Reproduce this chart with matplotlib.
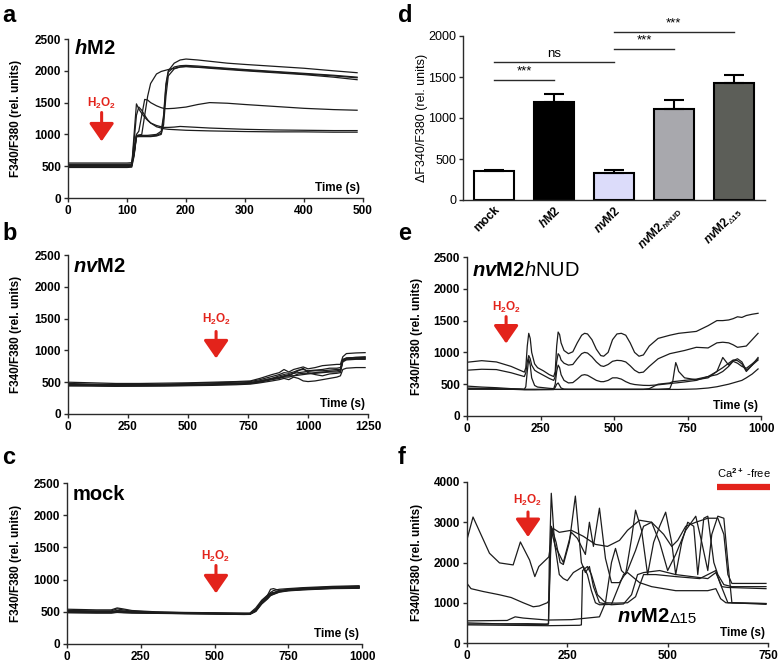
import matplotlib
matplotlib.use('Agg')
import matplotlib.pyplot as plt

plt.rcParams.update({
    'font.family': ['Liberation Sans', 'DejaVu Sans'],
    'mathtext.fontset': 'custom',
    'mathtext.rm': 'Liberation Sans:bold',
    'mathtext.it': 'Liberation Sans:italic:bold',
    'mathtext.bf': 'Liberation Sans:bold',
    'mathtext.sf': 'Liberation Sans',
    'mathtext.cal': 'Liberation Sans:italic',
})

RED = '#e3231b'
TRACE = '#1c1c1c'

# ---------------- data: panel a (hM2) ----------------
hM2_time = [0, 100, 108, 112, 116, 120, 125, 130, 135, 140, 150, 158, 162, 166, 170, 180, 190, 200, 220, 240, 270, 300, 350, 400, 450, 490]
hM2_trace1 = [550, 550, 555, 700, 980, 985, 985, 985, 985, 990, 1000, 1050, 1300, 1800, 2000, 2120, 2170, 2185, 2170, 2150, 2120, 2100, 2070, 2040, 2000, 1970]
hM2_trace2 = [500, 500, 505, 680, 970, 975, 975, 975, 975, 975, 985, 1020, 1250, 1750, 1980, 2060, 2080, 2085, 2075, 2060, 2040, 2020, 1990, 1960, 1930, 1900]
hM2_trace3 = [480, 480, 485, 660, 960, 965, 965, 965, 965, 965, 975, 1000, 1150, 1600, 1920, 2030, 2060, 2065, 2055, 2040, 2020, 2000, 1970, 1940, 1900, 1860]
hM2_trace4 = [520, 520, 525, 700, 980, 990, 1000, 1300, 1600, 1800, 1950, 1990, 2000, 2010, 2020, 2040, 2060, 2070, 2060, 2050, 2030, 2010, 1980, 1950, 1920, 1890]
hM2_trace5 = [490, 490, 500, 1000, 1480, 1400, 1330, 1270, 1220, 1180, 1140, 1120, 1110, 1110, 1110, 1115, 1125, 1120, 1110, 1100, 1090, 1080, 1070, 1065, 1060, 1060]
hM2_trace6 = [510, 510, 515, 900, 1300, 1430, 1380, 1300, 1230, 1180, 1120, 1100, 1090, 1085, 1080, 1075, 1070, 1065, 1060, 1055, 1050, 1045, 1040, 1040, 1035, 1035]
hM2_trace7 = [530, 530, 535, 800, 1000, 1050, 1300, 1550, 1540, 1500, 1450, 1420, 1410, 1405, 1405, 1410, 1420, 1430, 1470, 1500, 1490, 1470, 1440, 1410, 1390, 1380]

# ---------------- data: panel b (nvM2) ----------------
nvM2_time = [0, 100, 200, 300, 400, 500, 600, 700, 760, 800, 850, 880, 900, 920, 940, 960, 980, 1000, 1030, 1060, 1090, 1120, 1135, 1145, 1160, 1200, 1238]
nvM2_trace1 = [500, 490, 480, 480, 485, 490, 500, 510, 520, 560, 620, 650, 700, 660, 700, 720, 740, 710, 730, 760, 770, 780, 780, 900, 950, 960, 965]
nvM2_trace2 = [480, 470, 465, 465, 470, 480, 490, 500, 510, 540, 590, 620, 650, 640, 660, 690, 700, 680, 690, 700, 720, 720, 730, 860, 880, 890, 900]
nvM2_trace3 = [460, 455, 450, 450, 455, 460, 470, 480, 490, 520, 560, 580, 600, 620, 640, 650, 660, 670, 680, 680, 690, 700, 700, 840, 870, 880, 880]
nvM2_trace4 = [450, 445, 440, 440, 445, 450, 460, 470, 480, 500, 540, 560, 580, 580, 600, 610, 620, 630, 640, 650, 660, 660, 670, 820, 850, 860, 860]
nvM2_trace5 = [440, 440, 435, 440, 440, 445, 450, 460, 470, 490, 520, 540, 560, 540, 580, 560, 520, 510, 520, 540, 560, 580, 600, 700, 720, 730, 730]
nvM2_trace6 = [470, 460, 455, 455, 460, 465, 475, 485, 495, 520, 560, 600, 620, 600, 640, 680, 720, 650, 620, 600, 630, 640, 650, 830, 860, 870, 870]
nvM2_trace7 = [455, 450, 445, 445, 450, 455, 465, 475, 485, 510, 550, 570, 590, 600, 600, 630, 640, 640, 650, 660, 670, 680, 690, 850, 880, 890, 890]

# ---------------- data: panel c (mock) ----------------
mock_time = [0, 100, 150, 170, 190, 220, 300, 400, 500, 600, 620, 640, 660, 680, 690, 700, 720, 750, 800, 850, 900, 990]
mock_trace1 = [540, 530, 530, 560, 545, 520, 500, 490, 485, 480, 480, 560, 680, 760, 800, 830, 850, 860, 875, 885, 895, 905]
mock_trace2 = [520, 515, 515, 545, 530, 510, 495, 485, 480, 475, 475, 540, 660, 740, 790, 800, 830, 850, 865, 875, 885, 895]
mock_trace3 = [510, 505, 505, 520, 515, 500, 490, 480, 475, 470, 470, 530, 650, 730, 780, 790, 820, 840, 860, 870, 880, 890]
mock_trace4 = [500, 495, 495, 505, 500, 495, 485, 478, 472, 465, 468, 520, 640, 720, 770, 785, 815, 835, 850, 865, 875, 880]
mock_trace5 = [490, 485, 485, 495, 490, 485, 480, 472, 468, 460, 462, 510, 630, 710, 760, 775, 810, 830, 845, 855, 865, 870]
mock_trace6 = [495, 490, 490, 500, 495, 490, 482, 475, 470, 462, 465, 515, 640, 760, 850, 860, 830, 835, 850, 860, 870, 875]
mock_trace7 = [505, 500, 500, 510, 505, 495, 488, 480, 474, 468, 470, 525, 645, 725, 775, 790, 818, 838, 855, 868, 878, 885]
mock_trace8 = [485, 480, 480, 490, 485, 480, 476, 470, 465, 458, 460, 505, 620, 700, 750, 770, 805, 825, 840, 850, 860, 865]

# ---------------- data: panel d (bar chart) ----------------
bar_groups = ['mock', '$h$M2', '$nv$M2', '$nv$M2$_{h\\mathrm{NUD}}$', '$nv$M2$_{\\mathsf{\u0394}15}$']
bar_means = [350, 1200, 335, 1105, 1425]
bar_sem = [15, 95, 25, 110, 100]
bar_colors = ['#ffffff', '#000000', '#dcdcfa', '#a8a8ad', '#5c5e58']
sig_pairs = [(0, 1), (0, 2), (2, 3), (2, 4)]
sig_levels = [1460, 1680, 1840, 2050]
sig_labels = ['***', 'ns', '***', '***']

# ---------------- data: panel e (nvM2hNUD) ----------------
hNUD_time = [0, 50, 100, 150, 180, 195, 200, 205, 210, 215,
             220, 230, 240, 260, 280, 295, 300, 305, 310, 315,
             320, 330, 345, 360, 375, 390, 400, 410, 425, 440,
             455, 465, 480, 495, 510, 525, 540, 555, 570, 585,
             600, 620, 650, 690, 700, 705, 710, 715, 720, 740,
             780, 820, 850, 870, 890, 905, 920, 935, 950, 970, 990]
hNUD_trace1 = [845, 870, 850, 780, 720, 690, 760, 1100, 1300, 1220,
               1000, 820, 760, 710, 650, 620, 700, 1100, 1320, 1280,
               1150, 1030, 980, 1010, 1150, 1270, 1300, 1290, 1200, 1050,
               950, 940, 1000, 1200, 1290, 1300, 1270, 1150, 1000, 940,
               960, 1100, 1220, 1270, 1280, 1285, 1290, 1295, 1300, 1310,
               1330, 1420, 1500, 1500, 1510, 1530, 1560, 1550, 1580, 1600, 1615]
hNUD_trace2 = [720, 735, 730, 680, 640, 620, 680, 850, 950, 900,
               800, 720, 690, 640, 590, 560, 620, 850, 980, 950,
               880, 830, 800, 810, 900, 980, 1000, 990, 930, 850,
               790, 780, 810, 860, 875, 870, 850, 790, 720, 680,
               690, 780, 900, 980, 990, 995, 1000, 1005, 1010, 1030,
               1080, 1070, 1150, 1160, 1150, 1120, 1080, 1090, 1100, 1200, 1300]
hNUD_trace3 = [470, 455, 445, 430, 425, 420, 460, 700, 900, 800,
               600, 480, 455, 445, 435, 430, 500, 700, 800, 760,
               650, 560, 520, 525, 580, 640, 650, 640, 600, 560,
               540, 540, 560, 600, 600, 580, 540, 510, 495, 488,
               482, 480, 490, 510, 515, 518, 520, 522, 525, 535,
               560, 620, 700, 760, 830, 880, 870, 820, 700, 800, 920]
hNUD_trace4 = [440, 435, 428, 420, 415, 412, 412, 412, 412, 412,
               412, 412, 413, 414, 415, 416, 450, 500, 520, 480,
               440, 422, 420, 420, 420, 420, 420, 420, 420, 420,
               420, 420, 420, 420, 420, 420, 420, 420, 420, 420,
               420, 420, 420, 430, 550, 700, 840, 780, 700, 600,
               570, 600, 700, 920, 800, 870, 900, 850, 720, 800, 880]
hNUD_trace5 = [430, 428, 425, 422, 420, 418, 418, 418, 418, 418,
               418, 418, 418, 418, 418, 418, 418, 418, 418, 418,
               418, 418, 418, 418, 418, 418, 418, 418, 418, 418,
               418, 418, 418, 418, 418, 418, 418, 418, 418, 418,
               418, 430, 500, 520, 540, 542, 545, 547, 550, 560,
               580, 620, 650, 700, 780, 860, 830, 780, 750, 820, 900]
hNUD_trace6 = [420, 420, 420, 420, 420, 418, 418, 418, 418, 418,
               418, 418, 418, 418, 418, 418, 418, 418, 418, 418,
               418, 418, 418, 418, 418, 418, 418, 418, 418, 418,
               418, 418, 418, 418, 418, 418, 418, 418, 418, 418,
               418, 418, 418, 418, 418, 418, 418, 418, 418, 420,
               425, 440, 460, 480, 500, 520, 540, 560, 600, 660, 740]

# ---------------- data: panel f (nvM2 delta15) ----------------
d15_t1 = [0, 15, 30, 56, 81, 115, 133, 156, 169, 179, 204, 214, 230, 260, 290, 320, 350, 380, 400, 430, 460, 490, 510, 525, 545, 570, 600, 625, 640, 650, 660, 745]
d15_y1 = [2570, 3130, 2800, 2230, 1990, 1940, 2510, 2060, 1650, 1900, 2140, 2850, 2750, 2800, 2650, 2450, 2400, 2550, 2800, 3050, 3000, 2700, 2400, 2550, 2900, 3000, 3100, 3100, 2700, 1700, 1480, 1480]
d15_t2 = [0, 10, 40, 80, 110, 140, 165, 180, 200, 204, 210, 222, 232, 240, 255, 270, 285, 295, 305, 315, 330, 360, 390, 410, 425, 440, 480, 520, 560, 600, 620, 635, 650, 745]
d15_y2 = [1480, 1350, 1280, 1200, 1130, 1000, 900, 920, 1000, 1050, 2900, 2500, 2000, 1950, 2500, 3650, 2000, 1750, 1900, 1400, 1000, 950, 970, 1200, 1700, 1750, 1800, 1700, 1650, 1600, 1750, 1400, 1380, 1350]
d15_t3 = [0, 100, 195, 203, 205, 210, 218, 230, 240, 250, 265, 290, 300, 310, 320, 330, 360, 390, 400, 430, 460, 490, 520, 560, 600, 620, 632, 645, 745]
d15_y3 = [500, 470, 460, 470, 2000, 3720, 2500, 1700, 1600, 1550, 1750, 1900, 1700, 1300, 1000, 950, 960, 1700, 1750, 1500, 1400, 1350, 1300, 1300, 1300, 1350, 1100, 1000, 980]
d15_t4 = [0, 100, 200, 280, 285, 288, 300, 310, 325, 345, 370, 400, 420, 440, 470, 520, 580, 620, 630, 650, 745]
d15_y4 = [450, 440, 430, 440, 450, 1800, 1900, 1700, 1200, 1000, 990, 1000, 1150, 1700, 1700, 1650, 1600, 1800, 1500, 1000, 980]
d15_t5 = [0, 100, 120, 140, 200, 260, 300, 330, 345, 360, 370, 385, 395, 410, 420, 435, 450, 465, 480, 495, 510, 520, 535, 550, 565, 575, 590, 600, 615, 625, 640, 660, 745]
d15_y5 = [550, 560, 650, 620, 570, 580, 620, 650, 1000, 2000, 2350, 1800, 1700, 2600, 3300, 2800, 1700, 2500, 2900, 3250, 2500, 1700, 2500, 3000, 2900, 1700, 3100, 3150, 2000, 1700, 1450, 1400, 1400]
d15_t6 = [0, 150, 200, 203, 210, 220, 240, 260, 275, 295, 305, 315, 330, 345, 360, 380, 400, 420, 440, 460, 480, 500, 520, 545, 570, 585, 600, 610, 625, 640, 650, 660, 745]
d15_y6 = [470, 480, 470, 480, 2800, 2400, 2000, 2750, 2600, 2200, 3000, 2400, 3350, 2100, 1500, 1500, 1800, 2300, 2900, 3000, 2500, 1800, 2200, 2800, 3150, 2500, 1800, 2700, 3150, 3100, 2000, 1000, 960]

# ---------------- figure ----------------
W, H = 781, 670
fig = plt.figure(figsize=(W / 100, H / 100), dpi=100)


def make_ax(x0, y0, x1, y1):
    return fig.add_axes([x0 / W, 1 - y1 / H, (x1 - x0) / W, (y1 - y0) / H])


def style(ax, xlim, xticks, ylim, yticks, bold=True):
    ax.set_xlim(xlim)
    ax.set_ylim(ylim)
    ax.set_xticks(xticks)
    ax.set_yticks(yticks)
    for s in ['top', 'right']:
        ax.spines[s].set_visible(False)
    for s in ['left', 'bottom']:
        ax.spines[s].set_color('#2a2a2a')
        ax.spines[s].set_linewidth(1.0)
    ax.tick_params(direction='out', length=3, width=1.0, color='#2a2a2a', labelsize=8.5, pad=2)
    if bold:
        for lab in ax.get_xticklabels() + ax.get_yticklabels():
            lab.set_fontweight('bold')


def ylabel(ax, text, xpix, x0, width, bold=True):
    ax.set_ylabel(text, fontsize=8.5, fontweight='bold' if bold else 'normal')
    ax.yaxis.set_label_coords((xpix - x0) / width, 0.5)


def timelabel(ax):
    ax.text(0.99, 0.065, 'Time (s)', transform=ax.transAxes, ha='right', va='center',
            fontsize=8.5, fontweight='bold')


def h2o2(ax, x, y_top, y_tip, y_text):
    ax.annotate('', xy=(x, y_tip), xytext=(x, y_top),
                arrowprops=dict(arrowstyle='-|>,head_length=0.55,head_width=0.38', lw=2.2,
                                color=RED, shrinkA=0, shrinkB=0, mutation_scale=20))
    ax.text(x, y_text, 'H$_2$O$_2$', color=RED, ha='center', va='center', fontsize=8.5,
            fontweight='bold')


def panel_letter(x, y, s):
    fig.text(x / W, 1 - y / H, s, fontsize=17, fontweight='bold', ha='left', va='center')


# ---- a ----
axa = make_ax(68, 39, 363, 198)
for tr in [hM2_trace1, hM2_trace2, hM2_trace3, hM2_trace4, hM2_trace5, hM2_trace6, hM2_trace7]:
    axa.plot(hM2_time, tr, color=TRACE, lw=0.9)
style(axa, (0, 500), range(0, 501, 100), (0, 2500), range(0, 2501, 500))
ylabel(axa, 'F340/F380 (rel. units)', 22, 68, 295)
timelabel(axa)
axa.text(0.02, 1.0, '$h$M2', transform=axa.transAxes, fontsize=14.5, fontweight='bold', va='top', ha='left')
h2o2(axa, 57, 1344, 890, 1480)
panel_letter(2, 15, 'a')

# ---- b ----
axb = make_ax(68, 255, 368, 414)
for tr in [nvM2_trace1, nvM2_trace2, nvM2_trace3, nvM2_trace4, nvM2_trace5, nvM2_trace6, nvM2_trace7]:
    axb.plot(nvM2_time, tr, color=TRACE, lw=0.9)
style(axb, (0, 1250), range(0, 1251, 250), (0, 2500), range(0, 2501, 500))
ylabel(axb, 'F340/F380 (rel. units)', 22, 68, 300)
timelabel(axb)
axb.text(0.016, 0.99, '$nv$M2', transform=axb.transAxes, fontsize=14.5, fontweight='bold', va='top', ha='left')
h2o2(axb, 617, 1297, 875, 1484)
panel_letter(2, 234, 'b')

# ---- c ----
axc = make_ax(67, 483, 362, 644)
for tr in [mock_trace1, mock_trace2, mock_trace3, mock_trace4, mock_trace5, mock_trace6, mock_trace7, mock_trace8]:
    axc.plot(mock_time, tr, color=TRACE, lw=0.9)
style(axc, (0, 1000), range(0, 1001, 250), (0, 2500), range(0, 2501, 500))
ylabel(axc, 'F340/F380 (rel. units)', 22, 67, 295)
timelabel(axc)
axc.text(0.019, 0.99, 'mock', transform=axc.transAxes, fontsize=14.5, fontweight='bold', va='top', ha='left')
h2o2(axc, 505, 1219, 787, 1358)
panel_letter(2, 458, 'c')

# ---- d ----
axd = make_ax(463, 36, 765, 200)
xpos = list(range(len(bar_groups)))
axd.bar(xpos, bar_means, width=0.66, color=bar_colors, edgecolor='black', linewidth=1.5,
        yerr=[[0] * len(bar_sem), bar_sem], capsize=7,
        error_kw=dict(elinewidth=1.5, capthick=1.5, ecolor='black'))
style(axd, (-0.52, 4.52), xpos, (0, 2000), range(0, 2001, 500), bold=False)
axd.tick_params(axis='x', length=0, pad=3)
axd.set_xticklabels(bar_groups, rotation=45, ha='right', rotation_mode='anchor',
                    fontsize=8.5, fontweight='bold')
for lab in axd.get_yticklabels():
    lab.set_fontsize(9)
ylabel(axd, '\u0394F340/F380 (rel. units)', 428, 463, 302, bold=False)
axd.yaxis.label.set_fontsize(9)
for (i, j), lvl, lab in zip(sig_pairs, sig_levels, sig_labels):
    axd.plot([i, j], [lvl, lvl], color='#2a2a2a', lw=1.0, clip_on=False)
    axd.text((i + j) / 2, lvl + 30, lab, ha='center', va='bottom', fontsize=9.5, clip_on=False)
panel_letter(398, 15, 'd')

# ---- e ----
axe = make_ax(467, 257, 761, 416)
for tr in [hNUD_trace1, hNUD_trace2, hNUD_trace3, hNUD_trace4, hNUD_trace5, hNUD_trace6]:
    axe.plot(hNUD_time, tr, color=TRACE, lw=0.9)
style(axe, (0, 1000), range(0, 1001, 250), (0, 2500), range(0, 2501, 500))
ylabel(axe, 'F340/F380 (rel. units)', 423, 467, 294)
timelabel(axe)
te = axe.text(0.016, 0.975, '$nv$M2', transform=axe.transAxes, fontsize=14.5, fontweight='bold',
              va='top', ha='left')
axe.annotate('$\\mathcal{h}$NUD', xy=(1, 0), xycoords=te, fontsize=14.5, fontweight='normal',
             va='bottom', ha='left')
h2o2(axe, 133, 1562, 1140, 1703)
panel_letter(398, 234, 'e')

# ---- f ----
axf = make_ax(467, 482, 768, 643)
for tt, yy in [(d15_t1, d15_y1), (d15_t2, d15_y2), (d15_t3, d15_y3), (d15_t4, d15_y4),
               (d15_t5, d15_y5), (d15_t6, d15_y6)]:
    axf.plot(tt, yy, color=TRACE, lw=0.9)
style(axf, (0, 750), range(0, 751, 250), (0, 4000), range(0, 4001, 1000))
ylabel(axf, 'F340/F380 (rel. units)', 423, 467, 301)
timelabel(axf)
tf = axf.text(374, 646, '$nv$M2', fontsize=14.5, fontweight='bold', va='center', ha='left')
axf.annotate('\u039415', xy=(1, 0), xycoords=tf, fontsize=11, fontweight='normal',
             va='bottom', ha='left')
h2o2(axf, 152, 3255, 2633, 3553)
axf.plot([623, 755], [3880, 3880], color=RED, lw=4.5, solid_capstyle='butt', clip_on=False)
axf.text(689, 4050, 'Ca$^{2+}$ -free', ha='center', va='bottom', fontsize=8, clip_on=False)
panel_letter(398, 458, 'f')

fig.savefig('out.png', dpi=100)
